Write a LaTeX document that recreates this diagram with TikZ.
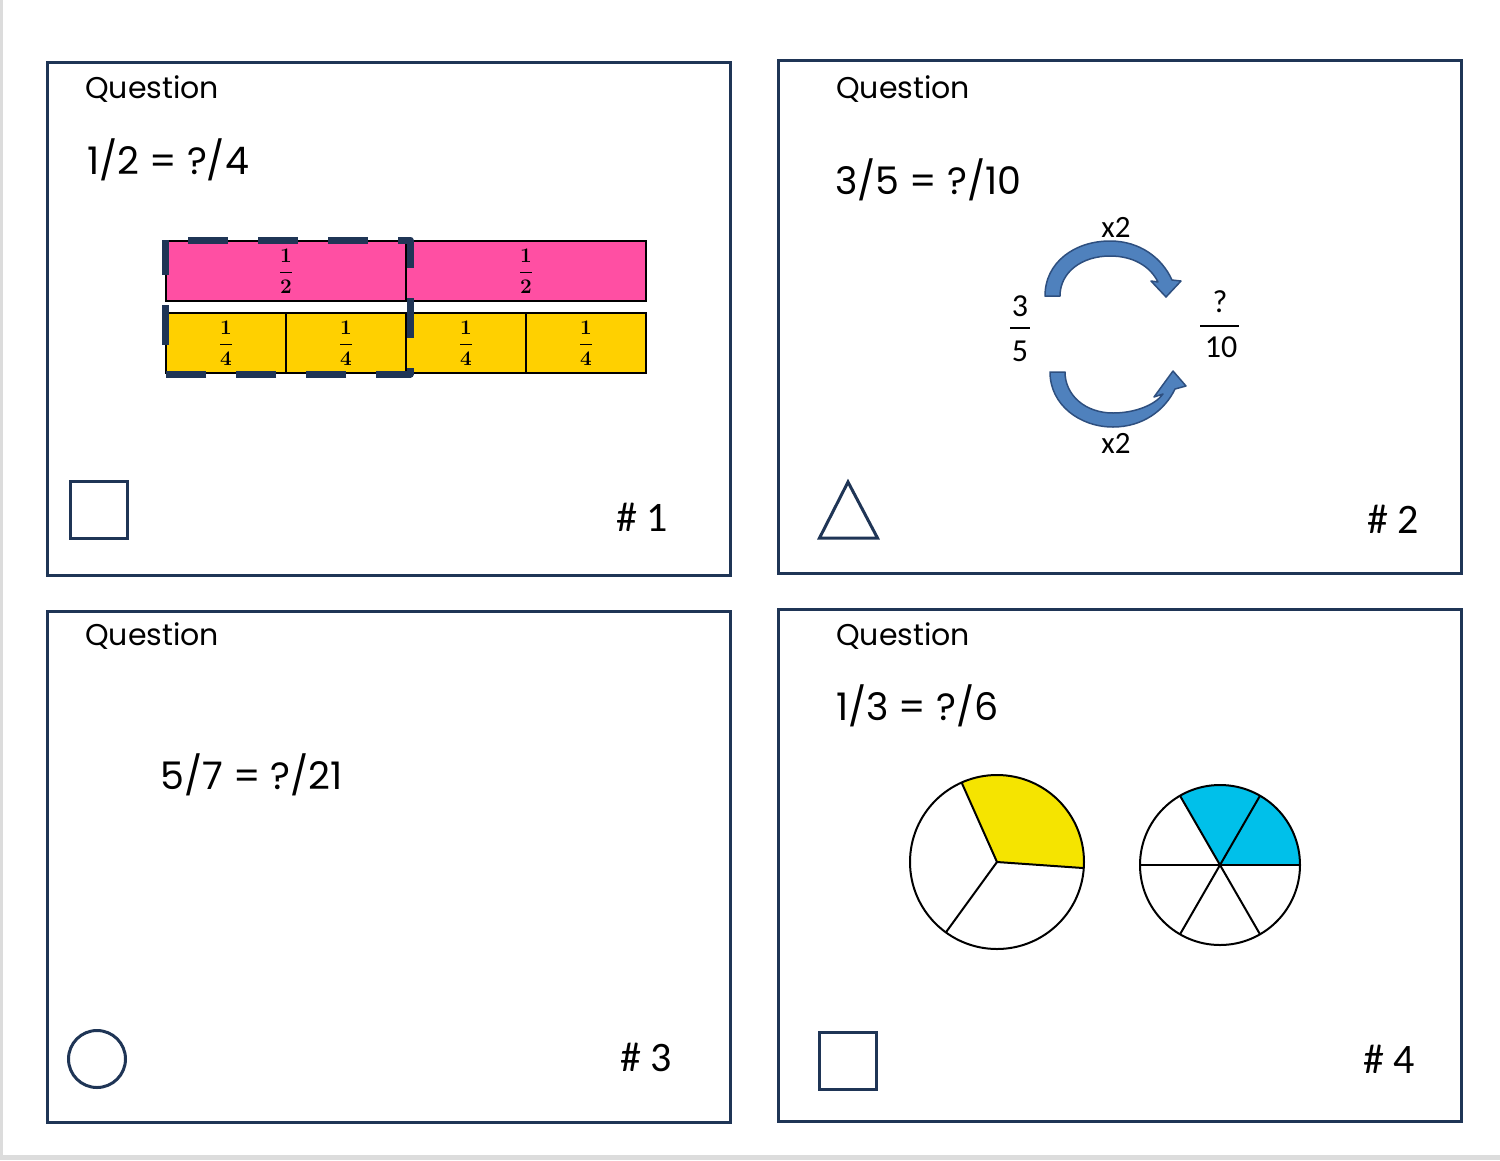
\documentclass[tikz,border=0pt]{standalone}
\usepackage{fontspec}
\setmainfont{Poppins}
\newfontfamily\calfont{Carlito}
\definecolor{navy}{HTML}{1F3556}
\definecolor{edgegray}{HTML}{DCDCDC}
\definecolor{barpink}{HTML}{FF4FA3}
\definecolor{baryellow}{HTML}{FFD000}
\definecolor{arrowfill}{HTML}{4F81BD}
\definecolor{arrowline}{HTML}{2E4F7F}
\definecolor{pieyellow}{HTML}{F5E400}
\definecolor{pieblue}{HTML}{00C0EA}
\begin{document}
\begin{tikzpicture}[x=1pt,y=-1pt,
  card/.style={draw=navy,line width=3pt,inner sep=0pt,outer sep=0pt},
  qtext/.style={anchor=base west,inner sep=0pt,font=\fontsize{30}{36}\selectfont},
  eqtext/.style={anchor=base west,inner sep=0pt,font=\fontsize{38}{44}\selectfont},
  numtext/.style={anchor=base west,inner sep=0pt,font=\calfont\fontsize{42}{48}\selectfont},
  calib/.style={inner sep=0pt,font=\calfont\fontsize{32}{38}\selectfont},
  symb/.style={draw=navy,line width=3pt,inner sep=0pt,outer sep=0pt,fill=white},
  pinkcell/.style={draw=black,line width=2pt,fill=barpink,minimum width=240pt,minimum height=60pt,inner sep=0pt,font=\fontsize{20}{22}\selectfont\boldmath},
  yelcell/.style={draw=black,line width=2pt,fill=baryellow,minimum width=120pt,minimum height=60pt,inner sep=0pt,font=\fontsize{20}{22}\selectfont\boldmath},
  blockarrow/.style={fill=arrowfill,draw=arrowline,line width=1.5pt,line join=round},
  pieline/.style={draw=black,line width=2pt}
]
\useasboundingbox (0,0) rectangle (1500,1160);
\fill[white] (0,0) rectangle (1500,1160);
\fill[edgegray] (0,0) rectangle (3,1160);
\fill[edgegray] (0,1155) rectangle (1500,1160);

% cards
\node[card,minimum width=683pt,minimum height=513pt] (c1) at (388.5,318.5) {};
\node[card,minimum width=683pt,minimum height=513pt] (c2) at (1119.5,316.5) {};
\node[card,minimum width=683pt,minimum height=511pt] (c3) at (388.5,866.5) {};
\node[card,minimum width=683pt,minimum height=512pt] (c4) at (1119.5,865) {};

% question titles
\node[qtext] (q1) at (85,98) {Question};
\node[qtext] (q2) at (836,98) {Question};
\node[qtext] (q3) at (85,645) {Question};
\node[qtext] (q4) at (836,645) {Question};

% equations
\node[eqtext] (e1) at (87,174) {1/2 = ?/4};
\node[eqtext] (e2) at (835,194) {3/5 = ?/10};
\node[eqtext] (e3) at (160,789) {5/7 = ?/21};
\node[eqtext] (e4) at (836,720) {1/3 = ?/6};

% card numbers
\node[numtext] (n1) at (616,531) {\# 1};
\node[numtext] (n2) at (1367,533) {\# 2};
\node[numtext] (n3) at (620,1071) {\# 3};
\node[numtext] (n4) at (1363,1073) {\# 4};

% symbols
\node[symb,minimum width=57pt,minimum height=57pt] (s1) at (98.5,509.5) {};
\draw[symb,line join=miter] (848,482) -- (877.5,538) -- (819.5,538) -- cycle;
\node[symb,circle,minimum size=57pt] (s3) at (97,1059) {};
\node[symb,minimum width=57pt,minimum height=57pt] (s4) at (847.5,1060.5) {};

% fraction bar (card 1)
\node[pinkcell] (h1) at (286,271) {$\displaystyle\frac{1}{2}$};
\node[pinkcell] (h2) at (526,271) {$\displaystyle\frac{1}{2}$};
\node[yelcell] (f1) at (226,343) {$\displaystyle\frac{1}{4}$};
\node[yelcell] (f2) at (346,343) {$\displaystyle\frac{1}{4}$};
\node[yelcell] (f3) at (466,343) {$\displaystyle\frac{1}{4}$};
\node[yelcell] (f4) at (586,343) {$\displaystyle\frac{1}{4}$};
\draw[navy,line width=7pt,dash pattern=on 40pt off 30pt,dash phase=47pt,line join=round]
  (165,240) -- (410,240) -- (410,374) -- (165,374) -- cycle;

% card 2: fractions and arrows
\node[calib] (a3) at (1020,306) {3};
\node[calib] (a5) at (1020,351) {5};
\draw[line width=1.5pt] (1010,328) -- (1030,328);
\node[calib] (bq) at (1220,302) {?};
\node[calib] (b10) at (1221,347) {10};
\draw[line width=1.5pt] (1200,326) -- (1239,326);
\node[calib,font=\calfont\fontsize{31}{36}\selectfont] (x2a) at (1116,227) {x2};
\node[calib,font=\calfont\fontsize{31}{36}\selectfont] (x2b) at (1116,443) {x2};

\path[blockarrow]
  (1045,296) .. controls (1045,262) and (1075,241) .. (1110,241)
  .. controls (1140,241) and (1162,258) .. (1172,280)
  -- (1181,281) -- (1166,297) -- (1151,281) -- (1158,282)
  .. controls (1150,266) and (1133,256) .. (1110,256)
  .. controls (1082,256) and (1060,272) .. (1060,296) -- cycle;
\path[blockarrow]
  (1050,372) .. controls (1050,405) and (1080,427) .. (1113,427)
  .. controls (1143,427) and (1165,410) .. (1175,389)
  -- (1186,386) -- (1173,371) -- (1154,397) -- (1163,394)
  .. controls (1155,405) and (1135,413) .. (1113,413)
  .. controls (1085,413) and (1065,395) .. (1065,372) -- cycle;

% card 4: pies
\coordinate (pa) at (997,862);
\fill[pieyellow] (pa) -- ++(4:87) arc[start angle=4,end angle=-114,radius=87] -- cycle;
\draw[pieline] (pa) circle[radius=87];
\draw[pieline] (pa) -- ++(4:87);
\draw[pieline] (pa) -- ++(-114:87);
\draw[pieline] (pa) -- ++(126:87);

\coordinate (pb) at (1220,865);
\fill[pieblue] (pb) -- ++(0:80) arc[start angle=0,end angle=-120,radius=80] -- cycle;
\draw[pieline] (pb) circle[radius=80];
\foreach \a in {0,60,120,180,240,300} {\draw[pieline] (pb) -- ++(\a:80);}
\end{tikzpicture}
\end{document}
